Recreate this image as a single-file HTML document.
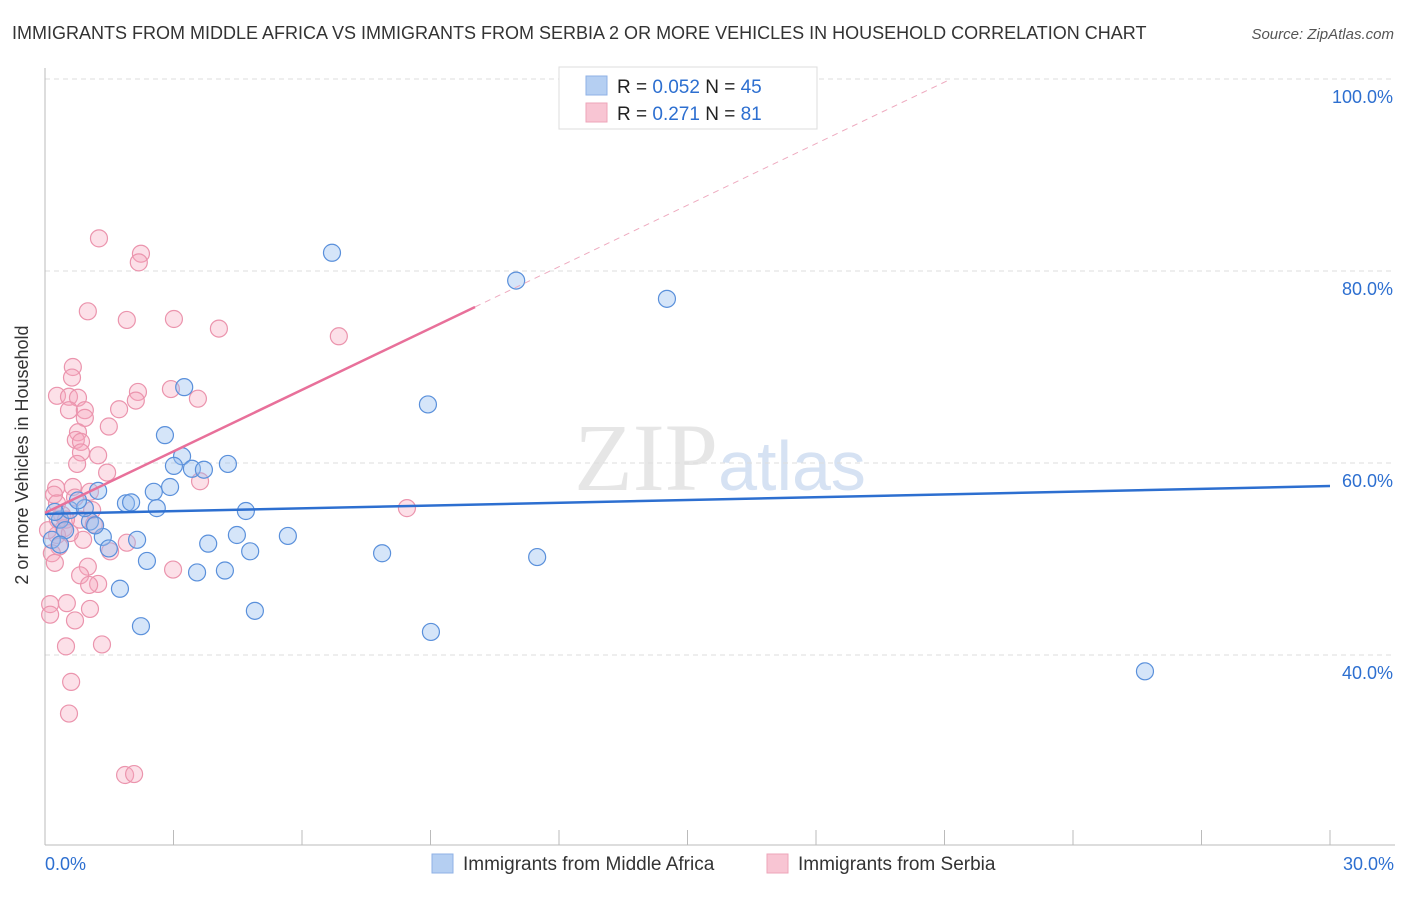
<!DOCTYPE html>
<html><head><meta charset="utf-8"><style>
body{margin:0;background:#fff;font-family:"Liberation Sans",sans-serif}
svg text{font-family:"Liberation Sans",sans-serif}
</style></head><body>
<svg id="chart" width="1406" height="892" xmlns="http://www.w3.org/2000/svg">
<text x="12" y="39" font-size="18" fill="#333">IMMIGRANTS FROM MIDDLE AFRICA VS IMMIGRANTS FROM SERBIA 2 OR MORE VEHICLES IN HOUSEHOLD CORRELATION CHART</text>
<text x="1394" y="39" font-size="15" fill="#555" font-style="italic" text-anchor="end">Source: ZipAtlas.com</text>
<text x="720" y="490" font-size="96" fill="#e6e6e6" text-anchor="middle" font-family="Liberation Serif"><tspan font-family="Liberation Serif">ZIP</tspan><tspan font-family="Liberation Sans" fill="#d6e2f3" font-size="70">atlas</tspan></text>
<g id="grid"></g>
<g id="axes"></g>
<text x="28" y="455" font-size="18" fill="#333" text-anchor="middle" transform="rotate(-90 28 455)">2 or more Vehicles in Household</text>
<g id="pts"></g>
<g id="trend"></g>
<g>
<rect x="559" y="67" width="258" height="62" fill="#fff" stroke="#ddd"/>
<rect x="586" y="76" width="21" height="19" fill="#b5cff2" stroke="#8fb2e6"/>
<rect x="586" y="103" width="21" height="19" fill="#f8c5d3" stroke="#eea5ba"/>
<text x="617" y="93" font-size="19" fill="#222">R = <tspan fill="#2d6fd0">0.052</tspan>   N = <tspan fill="#2d6fd0">45</tspan></text>
<text x="617" y="120" font-size="19" fill="#222">R =  <tspan fill="#2d6fd0">0.271</tspan>   N =  <tspan fill="#2d6fd0">81</tspan></text>
</g>
<g>
<rect x="432" y="854" width="21" height="19" fill="#b5cff2" stroke="#8fb2e6"/>
<text x="463" y="870" font-size="19" fill="#333">Immigrants from Middle Africa</text>
<rect x="767" y="854" width="21" height="19" fill="#f8c5d3" stroke="#eea5ba"/>
<text x="798" y="870" font-size="19" fill="#333">Immigrants from Serbia</text>
</g>
</svg>
<script>
const xTickLabels=["0.0%","30.0%"];
const yTicks=[40,60,80,100];
const yTickLabels=["40.0%","60.0%","80.0%","100.0%"];
const blueX=[6.70,11.0,14.52,3.25,8.94,2.80,3.20,3.01,3.43,3.71,4.27,2.92,2.54,1.24,1.89,2.01,2.61,4.69,4.48,5.67,3.81,2.15,1.35,1.49,4.79,7.87,11.49,2.38,3.55,4.20,1.75,4.90,2.24,9.01,25.68,0.35,0.58,1.05,0.93,0.23,0.47,0.77,0.16,0.35,1.17];
const blueY=[81.9,79.0,77.1,67.9,66.1,62.9,60.7,59.7,59.4,59.3,59.9,57.5,57.0,57.1,55.8,55.9,55.3,55.0,52.5,52.4,51.6,52.0,52.3,51.1,50.8,50.6,50.2,49.8,48.6,48.8,46.9,44.6,43.0,42.4,38.3,54.1,55.1,53.9,55.3,54.9,53.0,56.1,52.0,51.5,53.5];
const pinkX=[1.26,2.24,2.19,1.0,1.91,3.01,4.06,6.86,0.65,0.63,2.17,2.94,0.28,0.56,0.77,2.12,3.57,0.56,0.93,1.73,0.93,1.49,0.77,0.72,0.84,0.84,1.24,0.75,1.45,3.62,0.26,0.65,1.05,0.21,0.70,0.28,8.45,1.10,0.40,0.82,1.14,0.44,0.28,0.89,1.91,0.33,1.52,0.16,0.23,1.0,2.99,0.82,1.24,1.03,0.51,1.05,0.12,0.12,0.70,0.49,1.33,0.61,0.56,1.87,2.08,0.30,0.07,0.49,0.58];
const pinkY=[83.4,81.8,80.9,75.8,74.9,75.0,74.0,73.2,70.0,68.9,67.4,67.7,67.0,66.9,66.8,66.5,66.7,65.5,65.5,65.6,64.7,63.8,63.2,62.4,62.2,61.1,60.8,59.9,59.0,58.1,57.4,57.5,57.0,56.7,56.4,55.8,55.3,55.1,54.6,54.1,53.6,53.2,52.5,52.0,51.7,51.3,50.8,50.6,49.6,49.2,48.9,48.3,47.4,47.3,45.4,44.8,45.3,44.2,43.6,40.9,41.1,37.2,33.9,27.5,27.6,54.1,53.0,54.1,52.7];
const blueTrend=[54.7,57.6];
const pinkTrend=[54.8,2.137];
const NS="http://www.w3.org/2000/svg";
function X(v){return 45+v*1285/30;}
function Y(v){return 79+(100-v)*9.6;}
function mk(tag,parent,attrs){const e=document.createElementNS(NS,tag);for(const k in attrs)e.setAttribute(k,attrs[k]);document.getElementById(parent).appendChild(e);return e;}
yTicks.forEach((t,i)=>{
 const g=mk('line','grid',{x1:45,x2:1395,y1:Y(t),y2:Y(t),stroke:'#ddd','stroke-dasharray':'5,4'});
 
 
 const l=mk('text','axes',{x:1393,y:Y(t)+24,'text-anchor':'end','font-size':18,fill:'#2d6fd0'});
 l.textContent=yTickLabels[i];
 
 
});
mk('line','axes',{x1:45,x2:45,y1:68,y2:845,stroke:'#bbb'});
mk('line','axes',{x1:45,x2:1395,y1:845,y2:845,stroke:'#bbb'});
for(let i=1;i<=10;i++){const t=mk('line','axes',{x1:X(i*3),x2:X(i*3),y1:830,y2:845,stroke:'#bbb'});
 
 }
const x0=mk('text','axes',{x:45,y:870,'font-size':18,fill:'#2d6fd0'});x0.textContent=xTickLabels[0];


const x1=mk('text','axes',{x:1394,y:870,'font-size':18,fill:'#2d6fd0','text-anchor':'end'});x1.textContent=xTickLabels[1];


pinkX.forEach((v,i)=>{const c=mk('circle','pts',{cx:X(v),cy:Y(pinkY[i]),r:8.5,fill:'rgba(245,165,188,0.35)',stroke:'#eb94ad','stroke-width':1.2});
 
 });
blueX.forEach((v,i)=>{const c=mk('circle','pts',{cx:X(v),cy:Y(blueY[i]),r:8.5,fill:'rgba(150,190,240,0.4)',stroke:'#5a90db','stroke-width':1.2});
 
 });
const bt=mk('line','trend',{x1:X(0),y1:Y(blueTrend[0]),x2:X(30),y2:Y(blueTrend[1]),stroke:'#2d6fd0','stroke-width':2.5});


const pEnd=10.04, pFull=(100-pinkTrend[0])/pinkTrend[1];
const pt=mk('line','trend',{x1:X(0),y1:Y(pinkTrend[0]),x2:X(pEnd),y2:Y(pinkTrend[0]+pinkTrend[1]*pEnd),stroke:'#e8709a','stroke-width':2.5});


const pd=mk('line','trend',{x1:X(pEnd),y1:Y(pinkTrend[0]+pinkTrend[1]*pEnd),x2:X(pFull),y2:Y(100),stroke:'#eeaabf','stroke-width':1,'stroke-dasharray':'6,5'});


</script>
</body></html>
